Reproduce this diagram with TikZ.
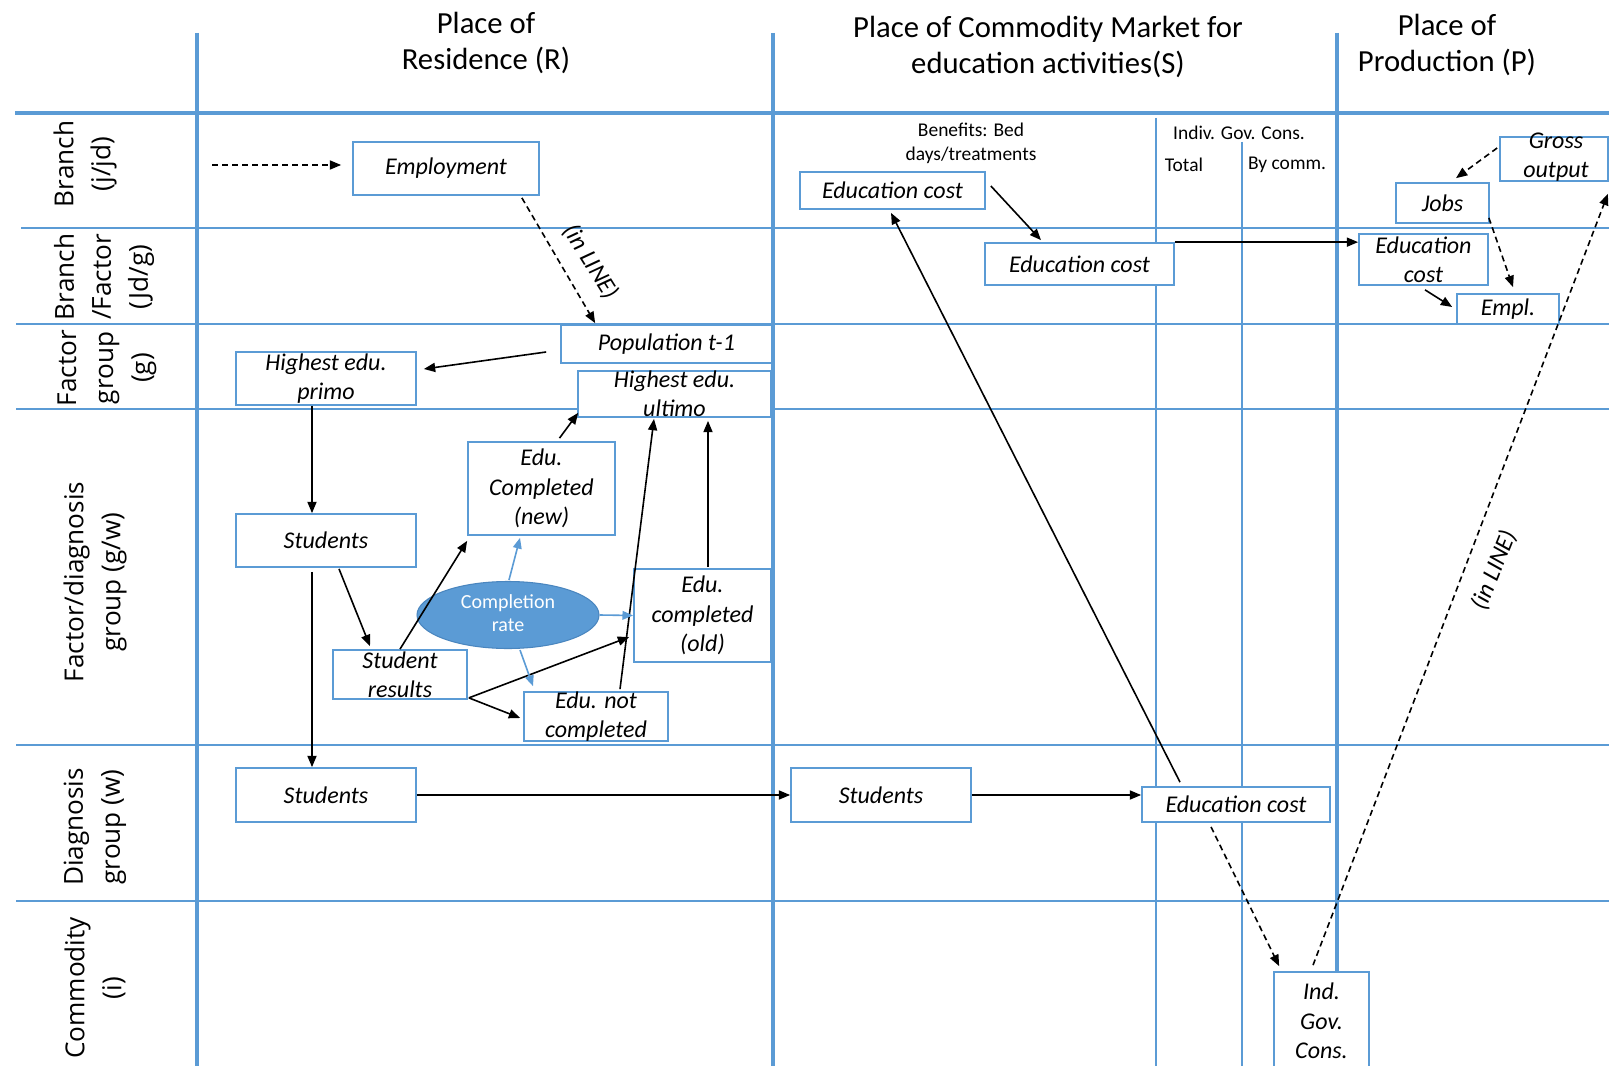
\documentclass[tikz,border=0pt]{standalone}
\usepackage{fontspec}
\setmainfont{Carlito}
\newfontfamily\rowfont{Open Sans}
\usetikzlibrary{arrows.meta,calc,shapes.geometric}
\definecolor{gridblue}{HTML}{5B9BD5}
\definecolor{ellborder}{HTML}{4A86BF}
\begin{document}
\begin{tikzpicture}[x=0.75pt,y=-0.75pt,
  gline/.style={draw=gridblue,line width=2.6pt},
  tline/.style={draw=gridblue,line width=1.3pt},
  sz/.style 2 args={minimum width=#1*0.75pt,minimum height=#2*0.75pt},
  box/.style={draw=gridblue,line width=1.3pt,fill=white,rectangle,inner sep=0pt},
  bt/.style={inner sep=0pt,align=center,font=\fontsize{18}{22}\selectfont\itshape},
  hdr/.style={inner sep=0pt,align=center,font=\fontsize{23}{27.7}\selectfont},
  rowlab/.style={inner sep=0pt,align=center,rotate=90,font=\rowfont\fontsize{19.6}{27.75}\selectfont},
  small/.style={inner sep=0pt,align=center,font=\fontsize{14.6}{18}\selectfont},
  arr/.style={-{Triangle[length=8.5pt,width=6.8pt]},line width=1.2pt,draw=black},
  darr/.style={arr,dash pattern=on 4.5pt off 3pt},
  barr/.style={-{Triangle[length=8pt,width=6.5pt]},line width=1.2pt,draw=gridblue,color=gridblue},
]
\useasboundingbox (0,0) rectangle (1609,1066);
\fill[white] (0,0) rectangle (1609,1066);

% ---------------- grid ----------------
\draw[gline] (15,113) -- (1609,113);
\draw[tline] (21,228) -- (1609,228);
\draw[tline] (16,324) -- (1609,324);
\draw[tline] (16,409) -- (1609,409);
\draw[tline] (16,745) -- (1609,745);
\draw[tline] (16,901) -- (1609,901);
\draw[gline] (197,33) -- (197,1066);
\draw[gline] (773,33) -- (773,1066);
\draw[gline] (1337,33) -- (1337,1066);
\draw[tline] (1156,118) -- (1156,1066);
\draw[tline] (1242,142) -- (1242,1066);

% ---------------- headers ----------------
\node[hdr] (hR) at (486,43) {Place of\\Residence (R)};
\node[hdr] (hS) at (1048,47) {Place of Commodity Market for\\education activities(S)};
\node[hdr] (hP) at (1447,45) {Place of\\Production (P)};

% ---------------- row labels ----------------
\node[rowlab] (r1) at (85,164) {Branch\\(j/jd)};
\node[rowlab] (r2) at (104,277) {Branch\\/Factor\\(Jd/g)};
\node[rowlab] (r3) at (107,368) {Factor\\group\\(g)};
\node[rowlab] (r4) at (95,582) {Factor/diagnosis\\group (g/w)};
\node[rowlab] (r5) at (95,827) {Diagnosis\\group (w)};
\node[rowlab] (r6) at (95,988) {Commodity\\(i)};

% ---------------- small column labels ----------------
\node[small] (ben) at (971,143) {Benefits: Bed\\days/treatments};
\node[small] (igcl) at (1239,133) {Indiv. Gov. Cons.};
\node[small] (tot) at (1184,165) {Total};
\node[small] (bycomm) at (1287,165) {By comm.};

% ---------------- boxes ----------------
\node[box,sz={186}{53}] (emp) at (446,168.5) {};
\node[box,sz={211}{38}] (pop) at (666.5,344) {};
\node[box,sz={180}{53}] (hprimo) at (326,378.5) {};
\node[box,sz={193}{46}] (hult) at (674.5,394) {};
\node[box,sz={147}{93}] (ecnew) at (541.5,488.5) {};
\node[box,sz={180}{53}] (stu1) at (326,540.5) {};
\node[ellipse,fill=gridblue,draw=ellborder,line width=0.8pt,inner sep=0pt,sz={182}{67}] (cr) at (508,615) {};
\node[box,sz={137}{93}] (ecold) at (702.5,615.5) {};
\node[box,sz={134}{49}] (sres) at (400,674.5) {};
\node[box,sz={144}{49}] (enc) at (596,716.5) {};
\node[box,sz={180}{54}] (stu2) at (326,795) {};
\node[box,sz={180}{54}] (stuS) at (881,795) {};
\node[box,sz={188}{35}] (ecB) at (1236,804.5) {};
\node[box,sz={95}{98}] (igc) at (1321.5,1021) {};
\node[box,sz={185}{37}] (ecT) at (892.5,190.5) {};
\node[box,sz={189}{42}] (ecM) at (1079.5,264) {};
\node[box,sz={129}{51}] (ecP) at (1423.5,259.5) {};
\node[box,sz={93}{40}] (jobs) at (1442.5,203) {};
\node[box,sz={108}{44}] (gross) at (1554,159) {};
\node[box,sz={102}{30}] (empl) at (1508,309) {};

% ---------------- connectors ----------------
\coordinate (a0) at (212,165);
\draw[darr] (a0) -- ($(emp.west)+(-11,-3.5)$);
\draw[darr] ($(emp.south east)+(-18,2)$) -- ($(pop.north west)+(35,-1)$);
\draw[arr] ($(pop.west)+(-14,8)$) -- ($(hprimo.east)+(7,-9.5)$);
\draw[arr] ($(hprimo.south)+(-14,0)$) -- ($(stu1.north)+(-14,0)$);
\draw[arr] ($(stu1.south)+(-14,4)$) -- ($(stu2.north)+(-14,0)$);
\draw[arr] ($(stu1.south)+(13,1)$) -- ($(sres.north)+(-30,-3)$);
\draw[arr] (sres.north) -- ($(ecnew.south west)+(0,5)$);
\draw[arr] ($(ecnew.north)+(18,-3)$) -- ($(hult.south west)+(1,-5)$);
\draw[arr] ($(sres.south east)+(1,-2)$) -- ($(ecold.west)+(-4,21.5)$);
\draw[arr] ($(sres.south east)+(1,-2)$) -- ($(enc.west)+(-3,1.5)$);
\draw[arr] ($(enc.north)+(24,-2)$) -- ($(hult.south)+(-20.5,1)$);
\draw[arr] ($(ecold.north)+(5.5,-1)$) -- ($(hult.south)+(33.5,3)$);
\draw[barr] ($(cr.north)+(1,-1)$) -- ($(ecnew.south)+(-21.5,2)$);
\draw[barr] (cr.east) -- (ecold.west);
\draw[barr] ($(cr.south)+(12,1)$) -- ($(enc.north)+(-63,-5)$);
\draw[arr] (stu2.east) -- (stuS.west);
\draw[arr] (stuS.east) -- (stuS.east -| ecB.west);
\draw[arr] ($(ecB.north)+(-56,-4)$) -- ($(ecT.south)+(-1.5,3)$);
\draw[arr] ($(ecT.east)+(5,-4.5)$) -- ($(ecM.north)+(-38.5,-2)$);
\draw[arr] (ecM.north east) -- (ecM.north east -| ecP.west);
\draw[darr] ($(gross.west)+(-2,-11)$) -- ($(jobs.north)+(13.5,-4)$);
\draw[darr] ($(jobs.south east)+(-1,-6)$) -- ($(empl.north)+(5,-6)$);
\draw[arr] ($(ecP.south)+(1.5,4)$) -- ($(empl.west)+(-4,-2)$);
\draw[darr] ($(ecB.south)+(-25,4)$) -- ($(igc.north west)+(6,-5)$);
\draw[darr] ($(igc.north)+(-8.5,-6)$) -- ($(gross.south east)+(-1,12)$);

% ---------------- texts ----------------
\node[bt] (emp-t) at (emp) {Employment};
\node[bt] (pop-t) at (pop) {Population t-1};
\node[bt] (hprimo-t) at (hprimo) {Highest edu.\\primo};
\node[bt] (hult-t) at (hult) {Highest edu.\\ultimo};
\node[bt] (ecnew-t) at (ecnew) {Edu.\\Completed\\(new)};
\node[bt] (stu1-t) at (stu1) {Students};
\node[inner sep=0pt,align=center,text=white,font=\fontsize{15}{17.7}\selectfont] (cr-t) at (508,613) {Completion\\rate};
\node[bt] (ecold-t) at (ecold) {Edu.\\completed\\(old)};
\node[bt] (sres-t) at (sres) {Student\\results};
\node[bt] (enc-t) at (enc) {Edu. not\\completed};
\node[bt] (stu2-t) at (stu2) {Students};
\node[bt] (stuS-t) at (stuS) {Students};
\node[bt] (ecB-t) at (ecB) {Education cost};
\node[bt] (igc-t) at (igc) {Ind.\\Gov.\\Cons.};
\node[bt] (ecT-t) at (ecT) {Education cost};
\node[bt] (ecM-t) at (ecM) {Education cost};
\node[bt] (ecP-t) at (ecP) {Education\\cost};
\node[bt] (jobs-t) at (jobs) {Jobs};
\node[bt] (gross-t) at (1556,157) {Gross\\output};
\node[bt] (empl-t) at (empl) {Empl.};
\node[bt,rotate=-58,font=\fontsize{18.5}{22}\selectfont\itshape] (inl1) at (591,262) {(in LINE)};
\node[bt,rotate=68,font=\fontsize{18.5}{22}\selectfont\itshape] (inl2) at (1494,570) {(in LINE)};
\end{tikzpicture}
\end{document}
